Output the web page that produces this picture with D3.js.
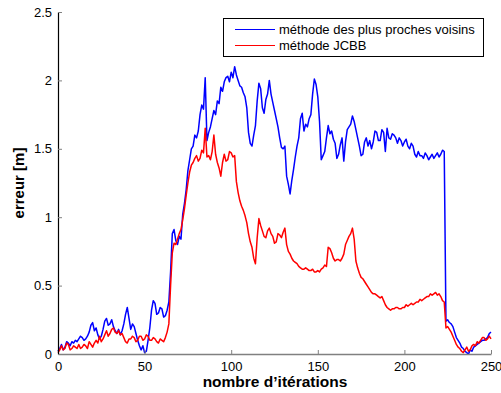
<!DOCTYPE html>
<html>
<head>
<meta charset="utf-8">
<script src="https://cdn.jsdelivr.net/npm/d3@7/dist/d3.min.js"></script>
<style>
  html, body { margin: 0; padding: 0; background: #fff; }
  svg { display: block; font-family: "Liberation Sans", Arial, sans-serif; }
</style>
</head>
<body>
<svg id="chart" width="501" height="393"></svg>
<script>
// Iteration index shared by both error series
const iterations = d3.range(0, 251);

// Localisation error with nearest-neighbour data association
const nearestNeighbour = [
  0.02, 0.04, 0.07, 0.03, 0.05, 0.09, 0.08, 0.06, 0.09, 0.08,
  0.10, 0.09, 0.11, 0.13, 0.12, 0.10, 0.11, 0.13, 0.16, 0.21,
  0.23, 0.17, 0.19, 0.14, 0.11, 0.13, 0.18, 0.24, 0.26, 0.21,
  0.22, 0.25, 0.20, 0.17, 0.15, 0.18, 0.14, 0.17, 0.22, 0.29,
  0.34, 0.26, 0.18, 0.22, 0.20, 0.15, 0.10, 0.06, 0.03, 0.06,
  0.01, 0.02, 0.10, 0.19, 0.32, 0.39, 0.37, 0.29, 0.30, 0.34,
  0.33, 0.27, 0.28, 0.32, 0.38, 0.60, 0.88, 0.91, 0.83, 0.80,
  0.86, 0.84, 1.02, 1.10, 1.20, 1.34, 1.42, 1.50, 1.52, 1.60,
  1.58, 1.63, 1.75, 1.82, 1.79, 2.02, 1.56, 1.62, 1.66, 1.72,
  1.78, 1.75, 1.85, 1.83, 1.95, 1.92, 1.99, 2.02, 2.03, 1.99,
  2.06, 2.02, 2.10, 2.04, 2.00, 1.96, 1.95, 1.91, 1.88, 1.80,
  1.62, 1.54, 1.52, 1.60, 1.67, 1.85, 1.98, 1.94, 1.80, 1.76,
  1.86, 1.90, 2.00, 1.90, 1.84, 1.78, 1.72, 1.66, 1.58, 1.51,
  1.50, 1.52, 1.30, 1.24, 1.17, 1.27, 1.35, 1.44, 1.52, 1.58,
  1.72, 1.76, 1.63, 1.68, 1.66, 1.72, 1.75, 1.90, 2.01, 1.97,
  1.88, 1.70, 1.42, 1.45, 1.48, 1.58, 1.67, 1.61, 1.63, 1.57,
  1.54, 1.43, 1.46, 1.53, 1.58, 1.41, 1.55, 1.64, 1.66, 1.68,
  1.74, 1.70, 1.64, 1.58, 1.52, 1.45, 1.46, 1.55, 1.58, 1.52,
  1.56, 1.50, 1.55, 1.63, 1.62, 1.56, 1.56, 1.64, 1.62, 1.48,
  1.65, 1.58, 1.57, 1.61, 1.60, 1.58, 1.54, 1.58, 1.56, 1.52,
  1.55, 1.57, 1.52, 1.50, 1.54, 1.52, 1.46, 1.44, 1.48, 1.45,
  1.45, 1.43, 1.47, 1.45, 1.42, 1.44, 1.46, 1.43, 1.45, 1.47,
  1.44, 1.46, 1.49, 1.48, 0.24, 0.25, 0.23, 0.22, 0.20, 0.16,
  0.12, 0.10, 0.08, 0.05, 0.04, 0.02, 0.01, 0.00, 0.03, 0.02,
  0.05, 0.06, 0.07, 0.08, 0.09, 0.10, 0.10, 0.11, 0.12, 0.15,
  0.16
];

// Localisation error with JCBB data association
const jcbb = [
  0.01, 0.03, 0.06, 0.03, 0.04, 0.08, 0.07, 0.03, 0.04, 0.06,
  0.05, 0.04, 0.07, 0.04, 0.05, 0.07, 0.06, 0.04, 0.09, 0.07,
  0.05, 0.08, 0.10, 0.08, 0.13, 0.09, 0.11, 0.14, 0.17, 0.13,
  0.15, 0.18, 0.19, 0.16, 0.15, 0.17, 0.14, 0.15, 0.12, 0.09,
  0.08, 0.11, 0.11, 0.13, 0.12, 0.09, 0.10, 0.13, 0.13, 0.10,
  0.11, 0.14, 0.13, 0.10, 0.10, 0.12, 0.11, 0.09, 0.08, 0.11,
  0.10, 0.09, 0.12, 0.16, 0.22, 0.50, 0.74, 0.81, 0.80, 0.84,
  0.88, 0.91, 0.98, 1.06, 1.16, 1.25, 1.33, 1.38, 1.40, 1.43,
  1.45, 1.41, 1.43, 1.49, 1.47, 1.65, 1.44, 1.45, 1.42, 1.48,
  1.60, 1.46, 1.40, 1.36, 1.30, 1.40, 1.46, 1.41, 1.42, 1.48,
  1.47, 1.44, 1.45, 1.26, 1.18, 1.12, 1.08, 1.05, 1.01, 0.96,
  0.88, 0.82, 0.78, 0.70, 0.66, 0.85, 0.99, 0.94, 0.90, 0.86,
  0.85, 0.90, 0.92, 0.88, 0.86, 0.81, 0.82, 0.88, 0.87, 0.85,
  0.89, 0.92, 0.80, 0.75, 0.73, 0.70, 0.68, 0.67, 0.66, 0.64,
  0.63, 0.62, 0.62, 0.63, 0.62, 0.61, 0.61, 0.62, 0.60, 0.60,
  0.61, 0.60, 0.62, 0.63, 0.65, 0.64, 0.78, 0.77, 0.74, 0.70,
  0.68, 0.69, 0.69, 0.68, 0.70, 0.73, 0.80, 0.83, 0.86, 0.88,
  0.92, 0.84, 0.68, 0.63, 0.59, 0.56, 0.55, 0.53, 0.51, 0.49,
  0.47, 0.45, 0.44, 0.44, 0.43, 0.42, 0.41, 0.42, 0.39, 0.36,
  0.34, 0.33, 0.32, 0.33, 0.33, 0.34, 0.34, 0.33, 0.33, 0.34,
  0.34, 0.36, 0.35, 0.36, 0.37, 0.36, 0.37, 0.38, 0.38, 0.40,
  0.39, 0.40, 0.41, 0.42, 0.42, 0.44, 0.43, 0.44, 0.45, 0.43,
  0.44, 0.42, 0.39, 0.38, 0.19, 0.20, 0.18, 0.16, 0.13, 0.10,
  0.07, 0.05, 0.04, 0.02, 0.01, 0.03, 0.05, 0.02, 0.03, 0.06,
  0.07, 0.06, 0.09, 0.08, 0.10, 0.12, 0.12, 0.10, 0.11, 0.13,
  0.11
];

const xTicks = [0, 50, 100, 150, 200, 250];
const yTicks = [0, 0.5, 1, 1.5, 2, 2.5];
const seriesNames = ["méthode des plus proches voisins", "méthode JCBB"];
const seriesColors = ["#0000ff", "#ff0000"];

const svg = d3.select("#chart");
const plotLeft = 58, plotRight = 491, plotTop = 12, plotBottom = 354;

const x = d3.scaleLinear().domain([0, 250]).range([plotLeft, plotRight]);
const y = d3.scaleLinear().domain([0, 2.5]).range([plotBottom, plotTop]);

// Curves
const line = d3.line()
  .x((d, i) => x(iterations[i]))
  .y(d => y(d));

[nearestNeighbour, jcbb].forEach((vals, k) => {
  svg.append("path")
    .datum(vals)
    .attr("fill", "none")
    .attr("stroke", seriesColors[k])
    .attr("stroke-width", 1.5)
    .attr("stroke-linejoin", "round")
    .attr("d", line);
});

// Bottom axis (grey, ticks pointing inward)
const xAxis = svg.append("g")
  .attr("transform", `translate(0,${plotBottom})`)
  .call(d3.axisBottom(x).tickValues(xTicks).tickSizeInner(-4).tickSizeOuter(0).tickPadding(8)
    .tickFormat(d3.format("d")));
xAxis.select(".domain").attr("stroke", "#808080").attr("stroke-width", 1.5);
xAxis.selectAll(".tick line").attr("stroke", "#808080");
xAxis.selectAll("text").attr("font-size", 13).attr("fill", "#000")
  .attr("font-family", "Liberation Sans, Arial, sans-serif");

// Left axis (black line, grey inward ticks)
const yAxis = svg.append("g")
  .attr("transform", `translate(${plotLeft},0)`)
  .call(d3.axisLeft(y).tickValues(yTicks).tickSizeInner(-4).tickSizeOuter(0).tickPadding(6)
    .tickFormat(d => d3.format("")(d)));
yAxis.select(".domain").attr("stroke", "#000").attr("stroke-width", 1.2);
yAxis.selectAll(".tick line").attr("stroke", "#808080");
yAxis.selectAll("text").attr("font-size", 13).attr("fill", "#000")
  .attr("font-family", "Liberation Sans, Arial, sans-serif");

// Axis titles
svg.append("text")
  .attr("x", 275)
  .attr("y", 387)
  .attr("text-anchor", "middle")
  .attr("font-size", 15.5)
  .attr("font-weight", "bold")
  .text("nombre d’itérations");

svg.append("text")
  .attr("transform", `translate(24,183) rotate(-90)`)
  .attr("text-anchor", "middle")
  .attr("font-size", 15)
  .attr("font-weight", "bold")
  .text("erreur [m]");

// Legend
const legend = svg.append("g");
legend.append("rect")
  .attr("x", 223.5).attr("y", 18.5)
  .attr("width", 260).attr("height", 38)
  .attr("fill", "#fff").attr("stroke", "#000").attr("stroke-width", 1);

seriesNames.forEach((name, i) => {
  const ly = 29.5 + i * 16;
  legend.append("line")
    .attr("x1", 235).attr("x2", 275)
    .attr("y1", ly).attr("y2", ly)
    .attr("stroke", seriesColors[i]).attr("stroke-width", 1.2);
  legend.append("text")
    .attr("x", 279).attr("y", ly + 4.5)
    .attr("font-size", 13)
    .text(name);
});
</script>
</body>
</html>
